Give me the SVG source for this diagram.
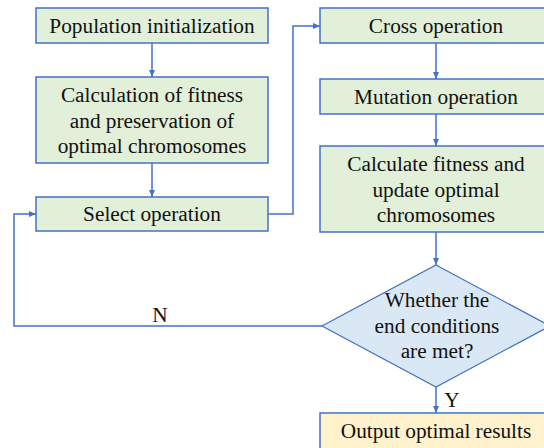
<svg xmlns="http://www.w3.org/2000/svg" width="544" height="448" viewBox="0 0 544 448">
<style>
.box{fill:#e2efd9;stroke:#4472c4;stroke-width:1.5}
.dia{fill:#dae8f5;stroke:#4472c4;stroke-width:1.2}
.out{fill:#fff2cc;stroke:#4472c4;stroke-width:1.5}
.t{font-family:"Liberation Serif","Times New Roman",serif;font-size:21.3px;fill:#111;text-anchor:middle}
.c{fill:none;stroke:#4472c4;stroke-width:1.5}
</style>
<defs>
<marker id="ah" markerWidth="8" markerHeight="8" refX="7" refY="4" orient="auto" markerUnits="userSpaceOnUse">
<path d="M0,1 L7,4 L0,7 Z" fill="#4472c4"/>
</marker>
</defs>
<rect width="544" height="448" fill="#fff"/>
<g id="n1"><rect class="box" x="36" y="8" width="232" height="35"/><text class="t" x="152" y="33">Population initialization</text></g>
<g id="n2"><rect class="box" x="36" y="77" width="232" height="86"/><text class="t" x="152" y="102">Calculation of fitness</text><text class="t" x="152" y="128">and preservation of</text><text class="t" x="152" y="153">optimal chromosomes</text></g>
<g id="n3"><rect class="box" x="36" y="197" width="232" height="34"/><text class="t" x="152" y="221">Select operation</text></g>
<g id="n4"><rect class="box" x="320" y="8" width="230" height="35"/><text class="t" x="436" y="33">Cross operation</text></g>
<g id="n5"><rect class="box" x="320" y="79" width="230" height="35"/><text class="t" x="436" y="104">Mutation operation</text></g>
<g id="n6"><rect class="box" x="320" y="146" width="230" height="86"/><text class="t" x="436" y="171">Calculate fitness and</text><text class="t" x="436" y="197">update optimal</text><text class="t" x="436" y="222">chromosomes</text></g>
<g id="n7"><polygon class="dia" points="436,265 550,326 436,387 322,326"/><text class="t" x="437" y="307">Whether the</text><text class="t" x="437" y="333">end conditions</text><text class="t" x="437" y="358">are met?</text></g>
<g id="n8"><rect class="out" x="320" y="413" width="230" height="40"/><text class="t" x="436" y="438">Output optimal results</text></g>
<g id="connectors">
<line class="c" x1="152" y1="43" x2="152" y2="77" marker-end="url(#ah)"/>
<line class="c" x1="152" y1="163" x2="152" y2="197" marker-end="url(#ah)"/>
<polyline class="c" points="268,214 293,214 293,26 320,26" marker-end="url(#ah)"/>
<line class="c" x1="436" y1="43" x2="436" y2="79" marker-end="url(#ah)"/>
<line class="c" x1="436" y1="114" x2="436" y2="146" marker-end="url(#ah)"/>
<line class="c" x1="436" y1="232" x2="436" y2="265" marker-end="url(#ah)"/>
<line class="c" x1="436" y1="387" x2="436" y2="413" marker-end="url(#ah)"/>
<polyline class="c" points="322,326 14,326 14,214 36,214" marker-end="url(#ah)"/>
<text class="t" x="160" y="322">N</text>
<text class="t" x="452" y="407">Y</text>
</g>
</svg>
